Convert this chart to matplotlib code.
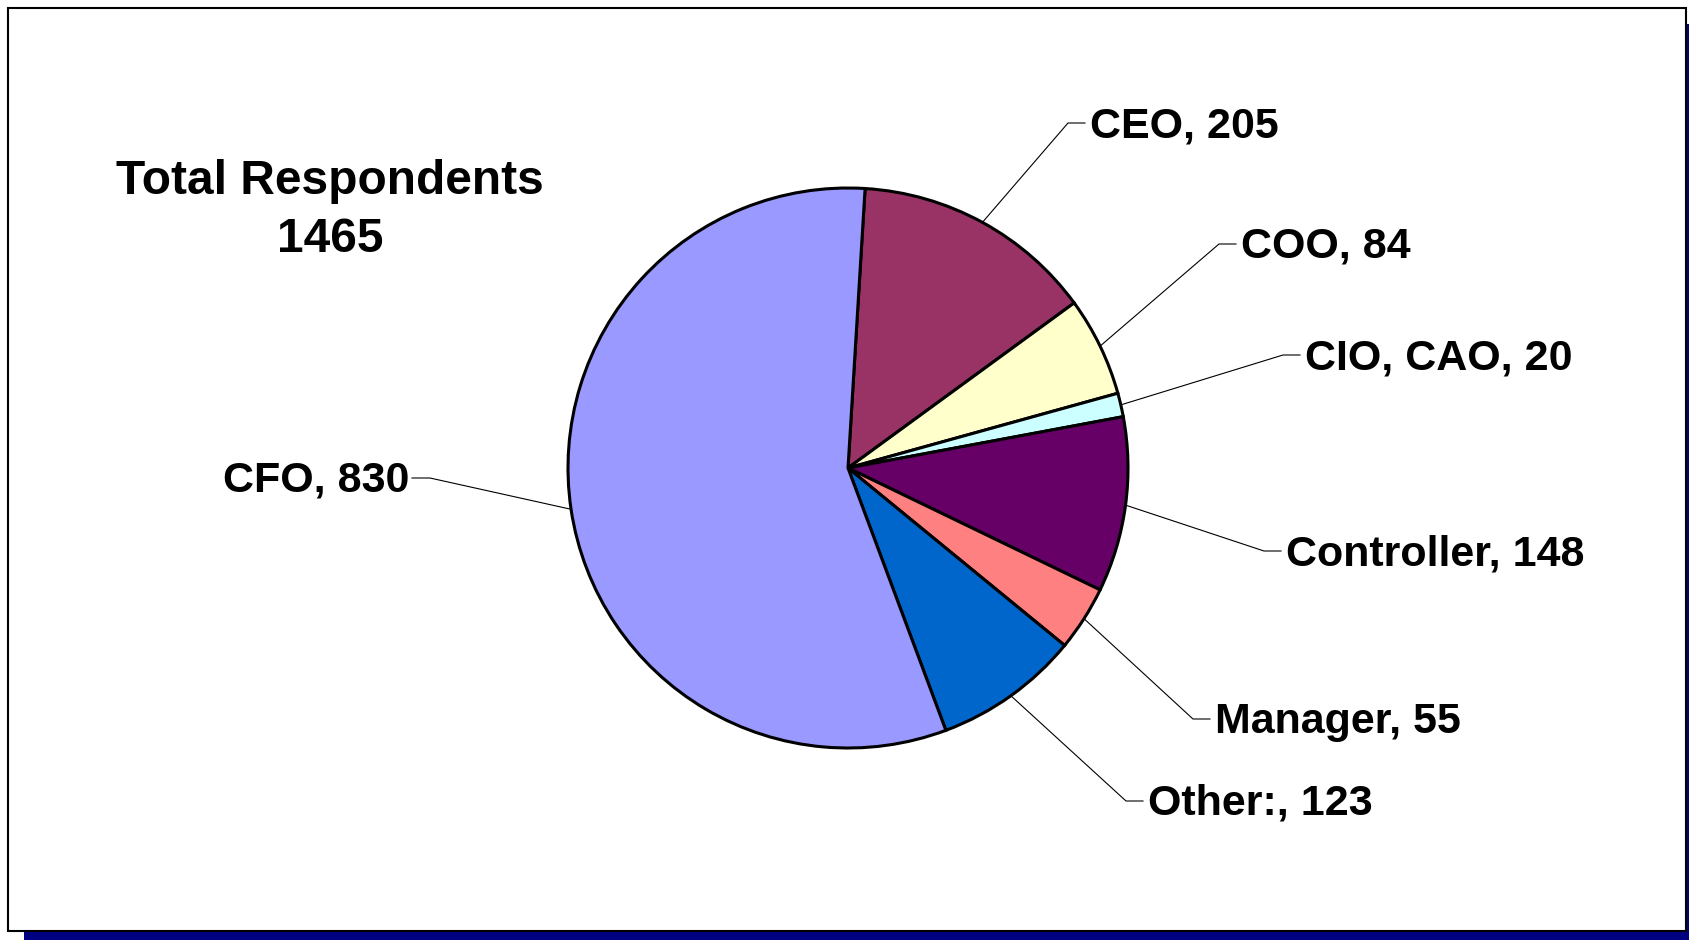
import matplotlib
matplotlib.use("Agg")
import matplotlib.pyplot as plt
import numpy as np
from matplotlib.patches import Rectangle

W, H = 1690, 940

# respondents by title, clockwise from the top
titles = ["CEO", "COO", "CIO, CAO", "Controller", "Manager", "Other:", "CFO"]
counts = [205, 84, 20, 148, 55, 123, 830]
colors = ["#993366", "#FFFFCC", "#CCFFFF", "#660066", "#FF8080", "#0066CC", "#9999FF"]
total = sum(counts)

# label text anchors in pixels (x, baseline y), y measured from the top
label_pos = [(1090, 137), (1241, 258), (1305, 369), (1286, 565),
             (1215, 733), (1148, 815), (409, 492)]
label_side = ["r", "r", "r", "r", "r", "r", "l"]

cx, cy, rad = 848, 468, 280
start = 86.5

def py(y):
    return H - y

fig = plt.figure(figsize=(W / 100, H / 100), dpi=100)
ax = fig.add_axes([0, 0, 1, 1])

# frame with navy drop shadow
ax.add_patch(Rectangle((24, 0), W - 24, py(24), facecolor="#000080", edgecolor="none", zorder=0))
ax.add_patch(Rectangle((8, py(931)), 1678, 923, facecolor="white", edgecolor="black",
                       linewidth=1.5, zorder=1))

wedges, _ = ax.pie(counts, colors=colors, startangle=start, counterclock=False,
                   center=(cx, py(cy)), radius=rad, frame=True,
                   wedgeprops=dict(edgecolor="black", linewidth=2.2))
for w in wedges:
    w.set_zorder(2)
ax.set_xlim(0, W)
ax.set_ylim(0, H)
ax.set_aspect("equal")
ax.axis("off")

fs = 31
cum = 0
for name, n, (tx, ty), side in zip(titles, counts, label_pos, label_side):
    mid = start - (cum + n / 2) / total * 360
    cum += n
    ex = cx + rad * np.cos(np.radians(mid))
    ey = py(cy) + rad * np.sin(np.radians(mid))
    yc = py(ty - 14)
    if side == "r":
        elbow, hend = tx - 22, tx - 5
        ha = "left"
    else:
        elbow, hend = tx + 21, tx + 3
        ha = "right"
    ax.plot([ex, elbow, hend], [ey, yc, yc], color="black", linewidth=0.8, zorder=3)
    ax.text(tx, py(ty), f"{name}, {n}", ha=ha, va="baseline", fontsize=fs,
            fontweight="bold", family="Liberation Sans", zorder=4)

ax.text(330, py(194), "Total Respondents", ha="center", va="baseline", fontsize=34.5,
        fontweight="bold", family="Liberation Sans", zorder=4)
ax.text(330, py(252), f"{total}", ha="center", va="baseline", fontsize=34.5,
        fontweight="bold", family="Liberation Sans", zorder=4)

fig.savefig("out.png", dpi=100)
